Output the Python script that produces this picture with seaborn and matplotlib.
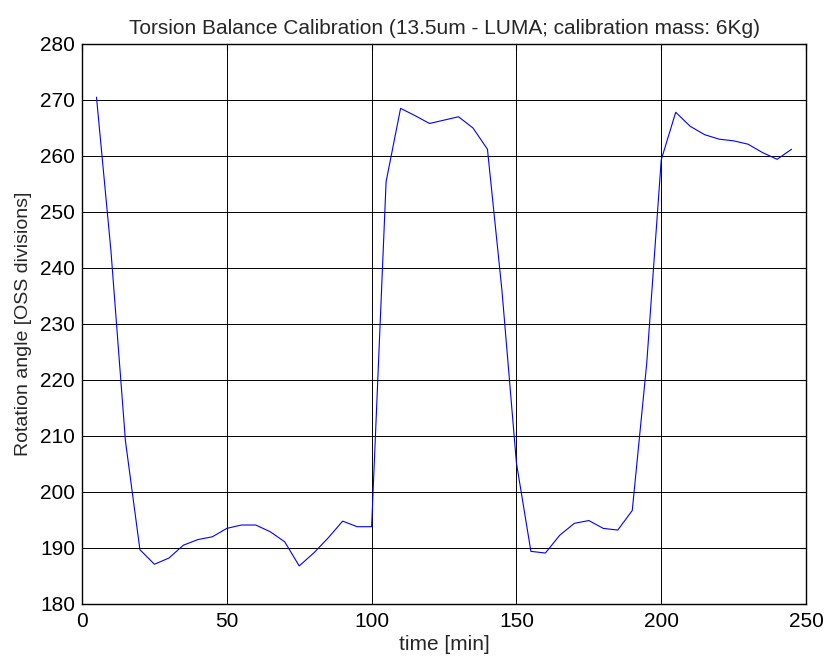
import numpy as np
import pandas as pd
import matplotlib
matplotlib.use('Agg')
import matplotlib.pyplot as plt
import seaborn as sns

# readings taken every 5 minutes
time_min = [5, 10, 15, 20, 25, 30, 35, 40, 45, 50,
            55, 60, 65, 70, 75, 80, 85, 90, 95, 100,
            105, 110, 115, 120, 125, 130, 135, 140, 145, 150,
            155, 160, 165, 170, 175, 180, 185, 190, 195, 200,
            205, 210, 215, 220, 225, 230, 235, 240, 245]
rotation = [270.5, 243.0, 209.1, 189.7, 187.1, 188.2, 190.5, 191.5, 192.0, 193.5,
            194.1, 194.1, 192.9, 191.1, 186.8, 189.1, 191.8, 194.8, 193.8, 193.8,
            255.4, 268.5, 267.2, 265.8, 266.4, 267.0, 265.0, 261.2, 236.0, 205.2,
            189.4, 189.1, 192.3, 194.4, 194.9, 193.5, 193.2, 196.7, 223.0, 259.3,
            267.8, 265.3, 263.8, 263.0, 262.7, 262.1, 260.6, 259.4, 261.2]

df = pd.DataFrame({'time': time_min, 'angle': rotation})

sns.set_style('white')
plt.rcParams['font.family'] = ['Liberation Sans', 'DejaVu Sans']

fig = plt.figure(figsize=(8.25, 6.66), dpi=100)
ax = fig.add_axes([0.0994, 0.0931, 0.8776, 0.8409])

sns.lineplot(data=df, x='time', y='angle', color='#0000ff', linewidth=0.8, ax=ax)

ax.set_xlim(0, 250)
ax.set_ylim(180, 280)
ax.set_xticks(np.arange(0, 251, 50))
ax.set_yticks(np.arange(180, 281, 10))
ax.grid(True, color='black', linewidth=0.7, linestyle='-')
ax.set_axisbelow(True)
for s in ax.spines.values():
    s.set_color('black')
    s.set_linewidth(1.0)
ax.tick_params(direction='in', length=4, width=0.8, top=True, right=True,
               labelsize=15, colors='black')
ax.tick_params(axis='x', pad=6)
ax.tick_params(axis='y', pad=5)

ax.set_title('Torsion Balance Calibration (13.5um - LUMA; calibration mass: 6Kg)', fontsize=15, pad=7)
ax.set_xlabel('time [min]', fontsize=15, labelpad=3)
ax.set_ylabel('Rotation angle [OSS divisions]', fontsize=14, labelpad=6)

fig.savefig('out.png', dpi=100, facecolor='white')
